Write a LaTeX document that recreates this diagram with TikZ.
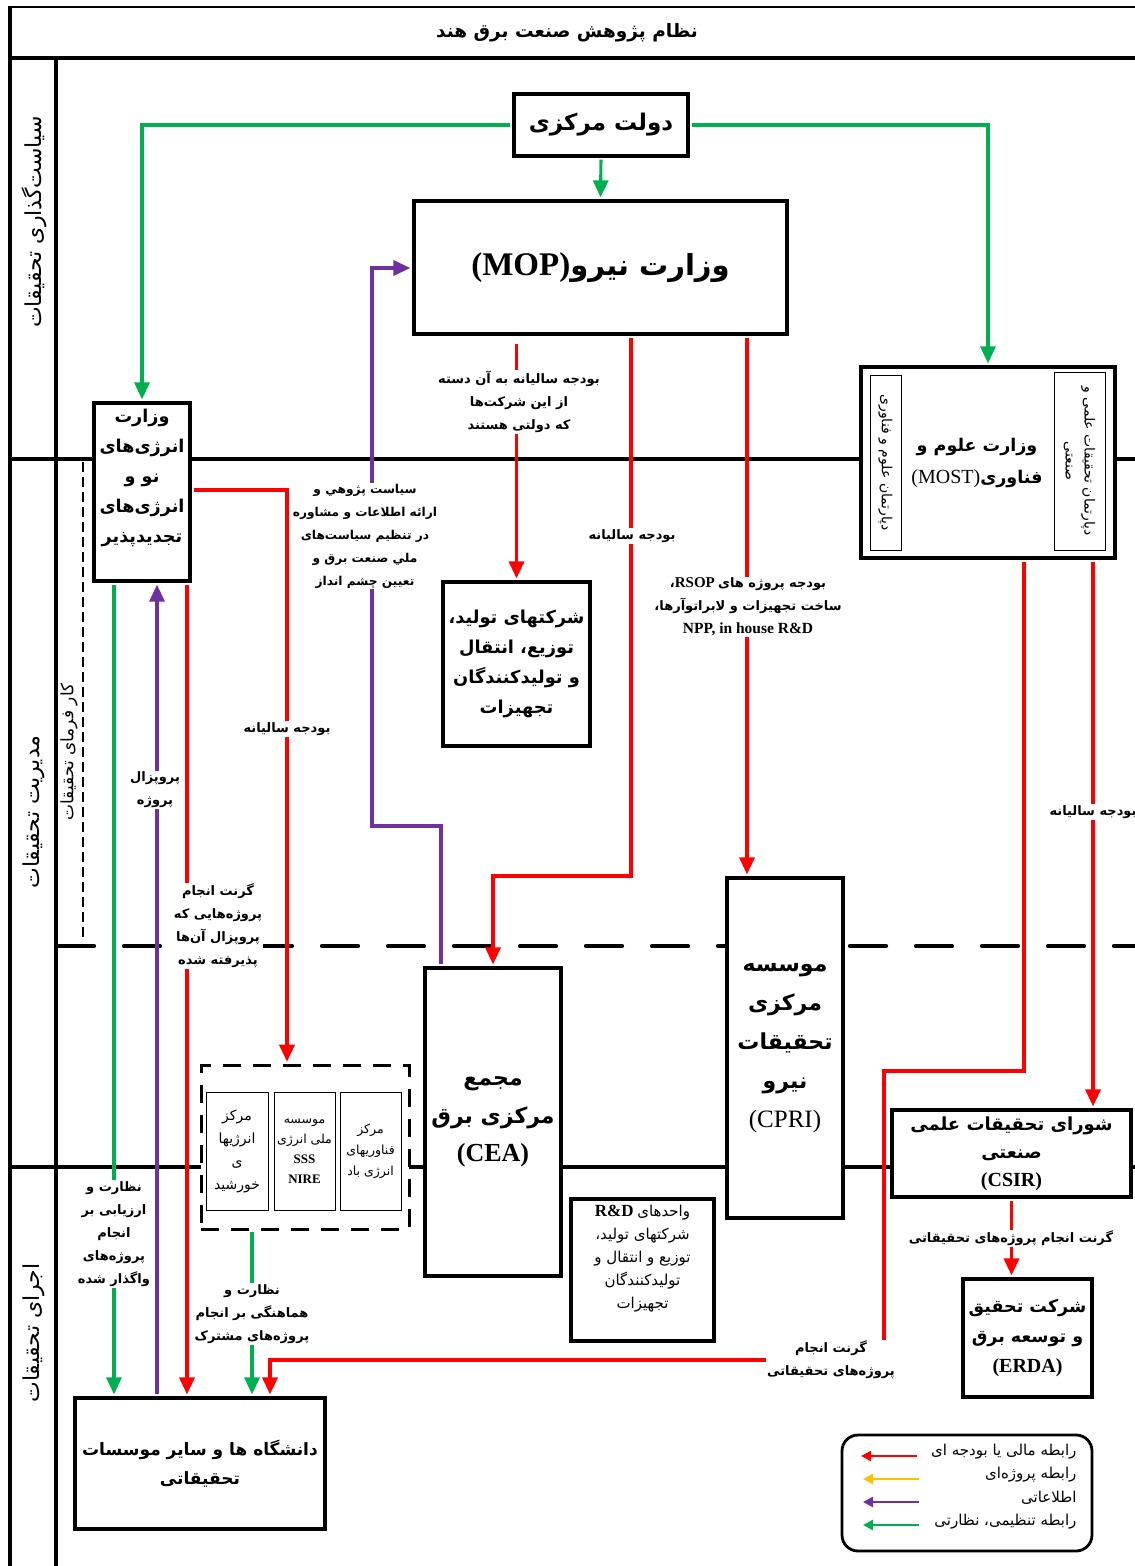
\documentclass[tikz,border=0pt]{standalone}
\usepackage{fontspec}
\setmainfont{Liberation Serif}
\newfontfamily\arabicfont[Script=Arabic]{DejaVu Sans}
\TeXXeTstate=1
\usetikzlibrary{arrows.meta, calc}
\usepackage{xcolor}

\definecolor{budget}{RGB}{255,0,0}
\definecolor{infoline}{RGB}{112,48,160}
\definecolor{control}{RGB}{0,176,80}
\definecolor{project}{RGB}{255,192,0}

\newcommand{\fa}[1]{{\arabicfont\beginR #1\endR}}
\newcommand{\fs}[2]{\fontsize{#1}{#2}\selectfont}
\newcommand{\en}[2]{{\fontsize{#1}{#1}\selectfont #2}}

\tikzset{
	box/.style={draw, line width=3.6pt, fill=white, align=center, inner sep=1pt},
	thinbox/.style={draw, line width=0.9pt, fill=white, align=center, inner sep=1pt},
	lane/.style={line width=3.8pt},
	tip/.style={-{Triangle[length=17pt, width=15pt]}, shorten >=1.8pt, shorten <=1.8pt},
	redarr/.style={tip, draw=budget, line width=3.4pt},
	greenarr/.style={tip, draw=control, line width=3.1pt},
	purplearr/.style={tip, draw=infoline, line width=3.3pt},
	lbl/.style={fill=white, align=center, inner sep=1pt, font=\fs{13}{23}\bfseries},
	legtext/.style={anchor=east, font=\fs{15}{18}},
	legarr/.style={{Triangle[length=10pt, width=10pt]}-, line width=2.8pt}
}

\begin{document}
\begin{tikzpicture}[x=1pt, y=-1pt]
	\useasboundingbox (0,0) rectangle (1135,1566);
	% frame and lanes
	\draw [lane, line width=2.8pt] (10,7) -- (1135,7);
	\draw [lane] (10,58) -- (1135,58);
	\draw [lane] (10,5.6) -- (10,1566);
	\draw [lane] (56,58) -- (56,1566);
	\draw [lane] (10,459) -- (1135,459);
	\draw [lane] (10,1167) -- (1135,1167);
	\draw [lane, line width=4.2pt, line cap=round, dash pattern=on 36pt off 30pt] (58,946) -- (1135,946);
	\draw [line width=1.2pt, dash pattern=on 10pt off 5pt] (83,462) -- (83,940);

	\node [font=\fs{18.5}{20}\bfseries] (title) at (567,33) {\fa{نظام پژوهش صنعت برق هند}};
	\node [rotate=90, font=\fs{22}{24}] (policy) at (34,222) {\fa{سیاست‌گذاری تحقیقات}};
	\node [rotate=90, font=\fs{22}{24}] (manage) at (34,812) {\fa{مدیریت تحقیقات}};
	\node [rotate=90, font=\fs{22}{24}] (execute) at (34,1333) {\fa{اجرای تحقیقات}};
	\node [rotate=90, font=\fs{17}{20}] (employer) at (69,752) {\fa{کار فرمای تحقیقات}};

	% boxes
	\node [box, minimum width=174, minimum height=62, font=\fs{23}{28}\bfseries] (gov) at (601,125) {\fa{دولت مرکزی}};
	\node [box, minimum width=373, minimum height=133, font=\fs{29}{32}\bfseries] (mop) at (600.5,267.5) {\en{33}{(MOP)}\fa{وزارت نیرو}};
	\node [box, minimum width=96, minimum height=178] (mnre) at (142,492) {};
	\node [align=center, font=\fs{17.6}{30}\bfseries] (mnretext) at (142,478) {\fa{وزارت}\\\fa{انرژی‌های}\\\fa{نو و}\\\fa{انرژی‌های}\\\fa{تجدیدپذیر}};
	\node [box, minimum width=147, minimum height=164, font=\fs{17.8}{30}\bfseries] (gencos) at (516.5,664) {\fa{شرکتهای تولید،}\\\fa{توزیع، انتقال}\\\fa{و تولیدکنندگان}\\\fa{تجهیزات}};
	\node [box, minimum width=254, minimum height=191] (most) at (988,462.5) {};
	\node [thinbox, rotate=-90, minimum width=175, minimum height=31, font=\fs{14}{17}] (sciencedept) at (885.5,462.5) {\fa{دپارتمان علوم و فناوری}};
	\node [thinbox, rotate=-90, minimum width=178, minimum height=51, font=\fs{14}{19}] (industrydept) at (1079.5,461) {\fa{دپارتمان تحقیقات علمی و}\\\fa{صنعتی}};
	\node [align=center, font=\fs{17.5}{32}\bfseries] (mosttext) at (977,463) {\fa{وزارت علوم و}\\{\mdseries\en{20}{(MOST)}}\fa{فناوری}};
	\node [box, minimum width=136, minimum height=308, font=\fs{22}{38}\bfseries] (cea) at (493,1122) {\fa{مجمع}\\\fa{مرکزی برق}\\\en{26}{(CEA)}};
	\node [box, minimum width=116, minimum height=340, font=\fs{22}{39}\bfseries] (cpri) at (785,1048) {\fa{موسسه}\\\fa{مرکزی}\\\fa{تحقیقات}\\\fa{نیرو}\\{\mdseries\en{25}{(CPRI)}}};
	\node [draw, line width=3pt, dash pattern=on 18pt off 12pt, fill=white, minimum width=208, minimum height=164] (nire) at (305,1147) {};
	\node [thinbox, minimum width=62, minimum height=118, font=\fs{14}{23}] (solar) at (237,1151) {\fa{مرکز}\\\fa{انرژیها}\\\fa{ی}\\\fa{خورشید}};
	\node [thinbox, minimum width=61, minimum height=118, font=\fs{12.5}{20}] (nise) at (304.5,1151) {\fa{موسسه}\\\fa{ملی انرژی}\\\textbf{\en{13}{SSS}}\\\textbf{\en{13}{NIRE}}};
	\node [thinbox, minimum width=61, minimum height=118, font=\fs{12.5}{21}] (wind) at (370.5,1151) {\fa{مرکز}\\\fa{فناوریهای}\\\fa{انرژی باد}};
	\node [box, minimum width=143, minimum height=142] (rdunits) at (642.5,1270) {};
	\node [align=center, font=\fs{15}{23}] (rdtext) at (642.5,1259) {\textbf{\en{17}{R\&D}} \fa{واحدهای}\\\fa{شرکتهای تولید،}\\\fa{توزیع و انتقال و}\\\fa{تولیدکنندگان}\\\fa{تجهیزات}};
	\node [box, minimum width=239, minimum height=87, font=\fs{18}{28}\bfseries] (csir) at (1011.5,1153.5) {\fa{شورای تحقیقات علمی}\\\fa{صنعتی}\\\en{20}{(CSIR)}};
	\node [box, minimum width=129, minimum height=118, font=\fs{17.5}{30}\bfseries] (erda) at (1027.5,1338) {\fa{شرکت تحقیق}\\\fa{و توسعه برق}\\\en{20}{(ERDA)}};
	\node [box, minimum width=250, minimum height=131, font=\fs{17}{29}\bfseries] (univ) at (200,1463.5) {\fa{دانشگاه ها و سایر موسسات}\\\fa{تحقیقاتی}};

	% bends of the connectors
	\coordinate (g1) at (114,0);
	\coordinate (g2) at (252,0);
	\coordinate (r1) at (631,876);
	\coordinate (r2) at (747,0);
	\coordinate (r3) at (287,490);
	\coordinate (r4) at (187,0);
	\coordinate (r5) at (1024,1071);
	\coordinate (r6) at (884,1360);
	\coordinate (r7) at (270,1360);
	\coordinate (r8) at (1093,0);
	\coordinate (p1) at (441,826);
	\coordinate (p2) at (372,268);
	\coordinate (p3) at (157,0);

	% regulation
	\draw [greenarr] (gov.west) -| (mnre.north);
	\draw [greenarr] (gov.east) -| (most.north);
	\draw [greenarr] (gov.south) -- (mop.north);
	\draw [greenarr] (mnre.south -| g1) -- (univ.north -| g1);
	\draw [greenarr] (nire.south -| g2) -- (univ.north -| g2);
	% budget
	\draw [redarr, shorten <=8pt] (mop.south -| gencos.north) -- (gencos.north);
	\draw [redarr] (mop.south -| r1) -- (r1) -| (cea.north);
	\draw [redarr] (mop.south -| r2) -- (cpri.north -| r2);
	\draw [redarr] (mnre.east |- r3) -| (nire.north -| r3);
	\draw [redarr] (mnre.south -| r4) -- (univ.north -| r4);
	\draw [redarr] (most.south -| r5) -- (r5) -| (r6) -- (r7) -- (univ.north -| r7);
	\draw [redarr] (most.south -| r8) -- (csir.north -| r8);
	\draw [redarr] (csir.south) -- (csir.south |- erda.north);
	% information
	\draw [purplearr] (cea.north -| p1) -- (p1) -| (p2) -- (mop.west |- p2);
	\draw [purplearr] (univ.north -| p3) -- (mnre.south -| p3);

	% connector labels
	\node [lbl] (lbgencos) at (519,402) {\fa{بودجه سالیانه به آن دسته}\\\fa{از این شرکت‌ها}\\\fa{که دولتی هستند}};
	\node [lbl] (lbcea) at (632,536) {\fa{بودجه سالیانه}};
	\node [lbl] (lbcpri) at (748,607) {{\arabicfont ،}\en{15}{RSOP} \fa{بودجه پروژه های}\\\fa{ساخت تجهیزات و لابراتوآرها،}\\\en{15.5}{NPP, in house R\&D}};
	\node [lbl, font=\fs{12.2}{23}\bfseries] (lbpolicy) at (365,536) {\fa{سیاست پژوهي و}\\\fa{ارائه اطلاعات و مشاوره}\\\fa{در تنظیم سیاست‌های}\\\fa{ملي صنعت برق و}\\\fa{تعیین چشم انداز}};
	\node [lbl] (lbnire) at (287,729) {\fa{بودجه سالیانه}};
	\node [lbl] (lbproposal) at (155,790) {\fa{پروپزال}\\\fa{پروژه}};
	\node [lbl] (lbgrant) at (218,926) {\fa{گرنت انجام}\\\fa{پروژه‌هایی که}\\\fa{پروپزال آن‌ها}\\\fa{پذیرفته شده}};
	\node [lbl] (lbsuper) at (114,1234) {\fa{نظارت و}\\\fa{ارزیابی بر}\\\fa{انجام}\\\fa{پروژه‌های}\\\fa{واگذار شده}};
	\node [lbl] (lbjoint) at (252,1314) {\fa{نظارت و}\\\fa{هماهنگی بر انجام}\\\fa{پروژه‌های مشترک}};
	\node [lbl] (lbcsir) at (1093,812) {\fa{بودجه سالیانه}};
	\node [lbl] (lberda) at (1011,1238) {\fa{گرنت انجام پروژه‌های تحقیقاتی}};
	\node [lbl] (lbresearch) at (831,1360) {\fa{گرنت انجام}\\\fa{پروژه‌های تحقیقاتی}};

	% legend
	\node [draw, line width=2.8pt, rounded corners=16pt, minimum width=250, minimum height=116] (legend) at (967,1493) {};
	\node [legtext] (lgbudget) at (1080,1452) {\fa{رابطه مالی یا بودجه ای}};
	\node [legtext] (lgproject) at (1080,1475) {\fa{رابطه پروژه‌ای}};
	\node [legtext] (lginfo) at (1080,1498) {\fa{اطلاعاتی}};
	\node [legtext] (lgcontrol) at (1080,1522) {\fa{رابطه تنظیمی، نظارتی}};
	\coordinate (la) at (861,1456);
	\coordinate (lb) at (863,1479);
	\coordinate (lc) at (863,1502);
	\coordinate (ld) at (863,1525);
	\draw [legarr, draw=budget] (la) -- ++(56,0);
	\draw [legarr, draw=project] (lb) -- ++(56,0);
	\draw [legarr, draw=infoline] (lc) -- ++(56,0);
	\draw [legarr, draw=control] (ld) -- ++(56,0);
\end{tikzpicture}
\end{document}
